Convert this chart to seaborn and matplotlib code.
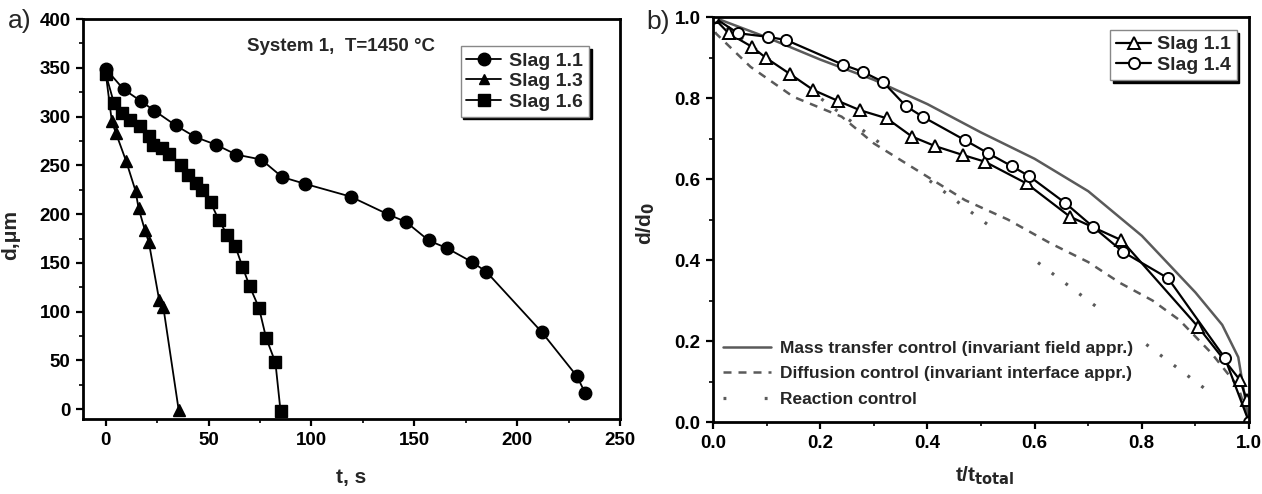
import matplotlib
matplotlib.use("Agg")
import matplotlib.pyplot as plt
import seaborn as sns
from matplotlib.lines import Line2D
from matplotlib.ticker import MultipleLocator

# ---------------- Panel a data (t in s, d in um) ----------------
t_slag11 = [0, 8.7, 17, 23.7, 34, 43.6, 53.8, 63.5, 75.6, 85.8, 97, 119, 137, 146, 157, 166, 178, 185, 212, 229, 233]
d_slag11 = [349, 328, 316, 306, 291, 279, 271, 261, 256, 238, 231, 218, 200, 192, 173, 165, 151, 141, 79, 34, 17]

t_slag13 = [0, 3, 5, 10, 14.5, 16, 19, 21, 26, 28, 35.5]
d_slag13 = [345, 295, 283, 254, 224, 206, 184, 171, 112, 105, -1]

t_slag16 = [0, 4, 8, 12, 16.5, 21, 23, 27.5, 31, 36.5, 40, 44, 47, 51, 55, 59, 63, 66.5, 70, 74.5, 78, 82.5, 85]
d_slag16 = [344, 314, 304, 296, 290, 280, 271, 268, 262, 250, 240, 232, 225, 212, 194, 179, 167, 146, 126, 104, 73, 48, -2]

# ---------------- Panel b data (normalised) ----------------
x_b11 = [0.0, 0.029, 0.072, 0.099, 0.144, 0.187, 0.233, 0.274, 0.324, 0.371, 0.415, 0.467, 0.507, 0.585,
         0.666, 0.762, 0.905, 0.983, 0.996]
y_b11 = [1.0, 0.960, 0.927, 0.899, 0.859, 0.820, 0.793, 0.770, 0.750, 0.705, 0.681, 0.659, 0.643, 0.589,
         0.507, 0.449, 0.235, 0.104, 0.054]

x_b14 = [0.0, 0.047, 0.103, 0.137, 0.243, 0.279, 0.317, 0.360, 0.391, 0.470, 0.513, 0.557, 0.590, 0.657,
         0.709, 0.765, 0.849, 0.955, 1.0]
y_b14 = [1.0, 0.960, 0.951, 0.943, 0.882, 0.865, 0.840, 0.780, 0.754, 0.696, 0.664, 0.632, 0.607, 0.541,
         0.482, 0.420, 0.355, 0.158, 0.0]

x_mass = [0.0, 0.1, 0.2, 0.3, 0.4, 0.5, 0.6, 0.7, 0.8, 0.85, 0.9, 0.95, 0.98, 1.0]
y_mass = [1.0, 0.95, 0.895, 0.845, 0.785, 0.715, 0.65, 0.57, 0.46, 0.39, 0.32, 0.24, 0.16, 0.0]

x_diff = [0.0, 0.005, 0.07, 0.15, 0.24, 0.30, 0.39, 0.47, 0.55, 0.63, 0.70, 0.76, 0.82, 0.87, 0.93, 0.98, 1.0]
y_diff = [1.0, 0.96, 0.877, 0.803, 0.754, 0.688, 0.614, 0.548, 0.50, 0.441, 0.395, 0.343, 0.30, 0.252, 0.17, 0.087, 0.0]

x_react = [0.0, 0.2, 0.4, 0.6, 0.8, 1.0]
y_react = [1.0, 0.8, 0.6, 0.4, 0.2, 0.0]

legend_a = ["Slag 1.1", "Slag 1.3", "Slag 1.6"]
legend_b = ["Slag 1.1", "Slag 1.4"]
legend_models = ["Mass transfer control (invariant field appr.)",
                 "Diffusion control (invariant interface appr.)",
                 "Reaction control"]

sns.set_style("ticks")
plt.rcParams['font.family'] = ['Liberation Sans', 'DejaVu Sans']
plt.rcParams['font.weight'] = 'bold'
plt.rcParams['axes.labelweight'] = 'bold'

fig = plt.figure(figsize=(12.62, 4.94), dpi=100)
axa = fig.add_axes([0.0658, 0.1518, 0.4255, 0.8097])
axb = fig.add_axes([0.565, 0.1457, 0.4247, 0.8198])

def style_axis(ax):
    for s in ax.spines.values():
        s.set_visible(True)
        s.set_linewidth(2)
        s.set_color('black')
    ax.tick_params(which='major', direction='out', length=5, width=1.6, labelsize=13.5,
                   colors='black', pad=4)
    ax.tick_params(which='minor', direction='out', length=3, width=1.2, colors='black')

# ---------------- Panel a ----------------
common = dict(ax=axa, color='black', sort=False, estimator=None, legend=False,
              linewidth=1.3, markeredgecolor='black', markeredgewidth=1)
sns.lineplot(x=t_slag11, y=d_slag11, marker='o', markersize=9, **common)
sns.lineplot(x=t_slag13, y=d_slag13, marker='^', markersize=8, **common)
sns.lineplot(x=t_slag16, y=d_slag16, marker='s', markersize=9, **common)

axa.set_xlim(-11, 250)
axa.set_ylim(-10, 400)
axa.xaxis.set_major_locator(MultipleLocator(50))
axa.xaxis.set_minor_locator(MultipleLocator(25))
axa.yaxis.set_major_locator(MultipleLocator(50))
axa.yaxis.set_minor_locator(MultipleLocator(25))
style_axis(axa)
axa.set_xlabel("t, s", fontsize=15, fontweight='bold')
axa.set_ylabel("d,μm", fontsize=15, fontweight='bold')
axa.xaxis.set_label_coords(0.5, -0.122)
axa.yaxis.set_label_coords(-0.118, 0.46)
axa.text(0.48, 0.932, "System 1,  T=1450 °C", transform=axa.transAxes, ha='center', va='center',
         fontsize=13.5, fontweight='bold')

hand_a = [Line2D([], [], color='black', lw=1.3, marker=m, markersize=ms, markerfacecolor='black',
                 markeredgecolor='black') for m, ms in zip(['o', '^', 's'], [9, 7, 9])]
leg_a = axa.legend(hand_a, legend_a, loc='upper left', bbox_to_anchor=(0.703, 0.932),
                   frameon=True, fancybox=False, shadow={'color': 'black', 'alpha': 1},
                   prop={'size': 14, 'weight': 'bold'}, handlelength=1.8, handletextpad=0.4,
                   labelspacing=0.15, borderpad=0.3, borderaxespad=0)
leg_a.get_frame().set_edgecolor('#888888')
leg_a.get_frame().set_linewidth(1)

# ---------------- Panel b ----------------
gray = '#5a5a5a'
react_style = (0, (0.9, 4.5, 0.9, 4.5, 0.9, 4.5, 0.9, 4.5, 0.9, 20))
sns.lineplot(x=x_mass, y=y_mass, ax=axb, color=gray, linewidth=1.8, sort=False, estimator=None, legend=False)
sns.lineplot(x=x_diff, y=y_diff, ax=axb, color=gray, linewidth=1.8, sort=False, estimator=None,
             legend=False, dashes=False, linestyle=(0, (3.2, 2.8)))
sns.lineplot(x=x_react, y=y_react, ax=axb, color=gray, linewidth=2.3, sort=False, estimator=None,
             legend=False, dashes=False, linestyle=react_style)

common_b = dict(ax=axb, color='black', sort=False, estimator=None, legend=False,
                linewidth=1.6, markerfacecolor='white', markeredgecolor='black', markeredgewidth=1.4)
sns.lineplot(x=x_b11, y=y_b11, marker='^', markersize=8, **common_b)
sns.lineplot(x=x_b14, y=y_b14, marker='o', markersize=8, **common_b)

axb.set_xlim(0, 1)
axb.set_ylim(0, 1)
axb.xaxis.set_major_locator(MultipleLocator(0.2))
axb.xaxis.set_minor_locator(MultipleLocator(0.1))
axb.yaxis.set_major_locator(MultipleLocator(0.2))
axb.yaxis.set_minor_locator(MultipleLocator(0.1))
style_axis(axb)
axb.set_xlabel("t/t$_{\\mathbf{total}}$", fontsize=15, fontweight='bold')
axb.set_ylabel("d/d$_{\\mathbf{0}}$", fontsize=15, fontweight='bold')
axb.xaxis.set_label_coords(0.507, -0.105)
axb.yaxis.set_label_coords(-0.105, 0.49)

hand_b = [Line2D([], [], color='black', lw=1.6, marker=m, markersize=8, markerfacecolor='white',
                 markeredgecolor='black', markeredgewidth=1.4) for m in ['^', 'o']]
leg_b = axb.legend(hand_b, legend_b, loc='upper left', bbox_to_anchor=(0.741, 0.968),
                   frameon=True, fancybox=False, shadow={'color': 'black', 'alpha': 1},
                   prop={'size': 14, 'weight': 'bold'}, handlelength=1.8, handletextpad=0.3,
                   labelspacing=0.15, borderpad=0.3, borderaxespad=0)
leg_b.get_frame().set_edgecolor('#888888')
leg_b.get_frame().set_linewidth(1)
axb.add_artist(leg_b)

hand_m = [Line2D([], [], color=gray, lw=1.8),
          Line2D([], [], color=gray, lw=1.8, linestyle=(0, (3.2, 2.8))),
          Line2D([], [], color=gray, lw=2.3, linestyle=(0, (0.9, 12)))]
leg_m = axb.legend(hand_m, legend_models, loc='lower left', bbox_to_anchor=(0.005, 0.02),
                   frameon=False, prop={'size': 12.5, 'weight': 'bold'}, handlelength=2.8,
                   handletextpad=0.5, labelspacing=0.6, borderaxespad=0)

fig.text(0.006, 0.958, "a)", fontsize=19, fontweight='normal', va='center', ha='left')
fig.text(0.512, 0.955, "b)", fontsize=19, fontweight='normal', va='center', ha='left')

fig.savefig("out.png", dpi=100)
